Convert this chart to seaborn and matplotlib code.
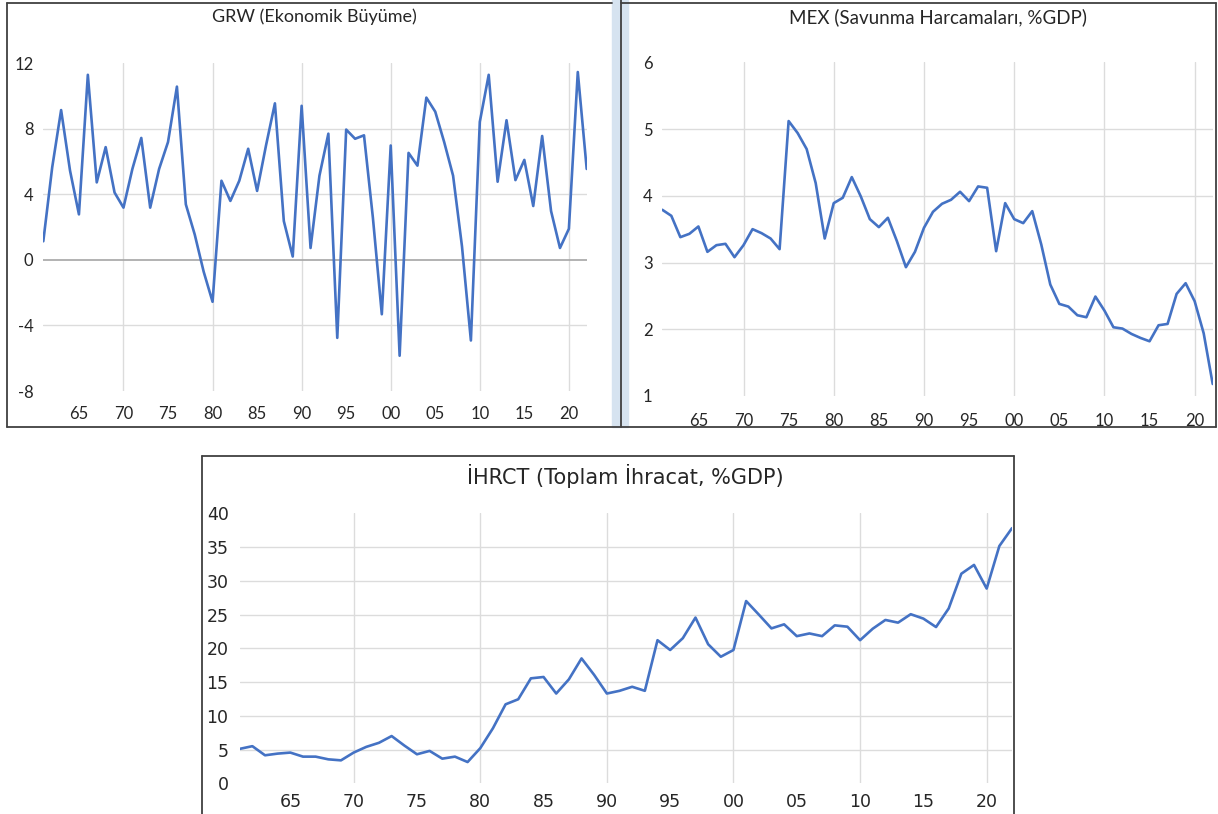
import matplotlib
matplotlib.use("Agg")
import matplotlib.pyplot as plt
import seaborn as sns
import numpy as np
from matplotlib.patches import Rectangle
from matplotlib.lines import Line2D

# data (1961-2022)
years = list(range(1961, 2023))

grw = [1.13, 5.64, 9.13, 5.44, 2.77, 11.28, 4.72, 6.87, 4.10, 3.18,
       5.54, 7.43, 3.18, 5.54, 7.18, 10.56, 3.38, 1.54, -0.72, -2.56,
       4.82, 3.59, 4.82, 6.77, 4.20, 6.97, 9.54, 2.36, 0.20, 9.39,
       0.72, 5.13, 7.69, -4.76, 7.94, 7.38, 7.59, 2.56, -3.32, 6.97,
       -5.85, 6.52, 5.74, 9.89, 9.03, 7.18, 5.13, 0.82, -4.92, 8.41,
       11.28, 4.76, 8.51, 4.86, 6.09, 3.28, 7.55, 2.97, 0.72, 1.89,
       11.45, 5.54]

mex = [3.79, 3.70, 3.38, 3.43, 3.54, 3.16, 3.26, 3.28, 3.08, 3.26,
       3.50, 3.44, 3.36, 3.20, 5.12, 4.94, 4.70, 4.19, 3.36, 3.89,
       3.97, 4.28, 3.99, 3.65, 3.53, 3.67, 3.32, 2.93, 3.16, 3.52,
       3.76, 3.88, 3.94, 4.06, 3.92, 4.14, 4.12, 3.17, 3.89, 3.65,
       3.59, 3.77, 3.27, 2.67, 2.38, 2.34, 2.21, 2.18, 2.49, 2.28,
       2.03, 2.01, 1.93, 1.87, 1.82, 2.06, 2.08, 2.53, 2.69, 2.42,
       1.94, 1.18]

ihrct = [5.1, 5.5, 4.15, 4.4, 4.55, 3.95, 3.95, 3.55, 3.4, 4.55,
         5.4, 6.0, 7.0, 5.6, 4.3, 4.8, 3.65, 3.95, 3.15, 5.2,
         8.15, 11.7, 12.45, 15.55, 15.75, 13.3, 15.4, 18.5, 16.05, 13.3,
         13.7, 14.3, 13.7, 21.2, 19.75, 21.5, 24.55, 20.6, 18.75, 19.75,
         27.0, 25.0, 22.95, 23.55, 21.8, 22.2, 21.8, 23.4, 23.2, 21.2,
         22.9, 24.2, 23.8, 25.05, 24.4, 23.15, 25.9, 31.05, 32.35, 28.85,
         35.15, 37.8]

decade_years = list(range(1970, 2021, 10))   # labelled + vertical gridline
mid_years = list(range(1965, 2020, 10))      # labelled only
decade_labels = [str(y)[-2:] for y in decade_years]
mid_labels = [str(y)[-2:] for y in mid_years]

BLUE = "#4472C4"
GRID = "#DCDCDC"
TXT = "#262626"
EDGE = "#404040"
W, H = 1218, 814

sns.set_style("white")
plt.rcParams["font.family"] = ["Lato", "DejaVu Sans"]

fig = plt.figure(figsize=(W / 100, H / 100), dpi=100)


def px_axes(x0, x1, ytop, ybot):
    return fig.add_axes([x0 / W, 1 - ybot / H, (x1 - x0) / W, (ybot - ytop) / H])


def px_line(xs, ys):
    fig.lines.append(Line2D([x / W for x in xs], [1 - y / H for y in ys],
                            transform=fig.transFigure, color=EDGE, lw=1.3, zorder=2))


def style_axes(ax, yticks, ylim, font, size, xpad, ypad):
    ax.set_xlim(1961, 2022)
    ax.set_ylim(*ylim)
    ax.set_xticks(decade_years)
    ax.set_xticklabels(decade_labels, fontfamily=font, fontsize=size, color=TXT)
    ax.set_xticks(mid_years, minor=True)
    ax.set_xticklabels(mid_labels, minor=True, fontfamily=font, fontsize=size, color=TXT)
    ax.set_yticks(yticks)
    ax.set_yticklabels([str(v) for v in yticks], fontfamily=font, fontsize=size, color=TXT)
    ax.tick_params(axis="both", which="both", length=0)
    ax.tick_params(axis="x", which="both", pad=xpad)
    ax.tick_params(axis="y", pad=ypad)
    ax.grid(True, axis="both", which="major", color=GRID, lw=1.0)
    ax.grid(False, which="minor")
    ax.set_axisbelow(True)
    for s in ax.spines.values():
        s.set_visible(False)
    gl = ax.get_ygridlines()
    gl[0].set_visible(False)
    gl[-1].set_visible(False)
    ax.set_xlabel("")
    ax.set_ylabel("")
    ax.set_facecolor("none")


# separator strip and frames
fig.patches.append(Rectangle((611.7 / W, 1 - 426.5 / H), 16.6 / W, 426.5 / H,
                             transform=fig.transFigure, color="#D6E3F0", zorder=0))
px_line([7, 7], [3, 426.5])
px_line([7, 611.7], [3, 3])
px_line([621, 1216], [3, 3])
px_line([621, 621], [0, 426.5])
px_line([1216, 1216], [3, 426.5])
px_line([7, 1216], [426.5, 426.5])
px_line([202, 202], [814, 456])
px_line([202, 1014], [456, 456])
px_line([1014, 1014], [456, 814])

# GRW
ax1 = px_axes(43.3, 586.7, 63, 391)
sns.lineplot(x=years, y=grw, ax=ax1, color=BLUE, linewidth=1.9)
style_axes(ax1, [-8, -4, 0, 4, 8, 12], (-8, 12), "Lato", 12, 11, 7)
ax1.get_ygridlines()[2].set_visible(False)
ax1.axhline(0, color="#A6A6A6", lw=1.2, zorder=1)
fig.text(314 / W, 1 - 17 / H, "GRW (Ekonomik Büyüme)", ha="center", va="center",
         fontfamily="Lato", fontsize=13, color=TXT)

# MEX
ax2 = px_axes(662.3, 1212.7, 62.3, 396)
sns.lineplot(x=years, y=mex, ax=ax2, color=BLUE, linewidth=1.9)
style_axes(ax2, [1, 2, 3, 4, 5, 6], (1, 6), "Lato", 12, 12, 7)
fig.text(938 / W, 1 - 17 / H, "MEX (Savunma Harcamaları, %GDP)", ha="center", va="center",
         fontfamily="Lato", fontsize=13.5, color=TXT)

# IHRCT
ax3 = px_axes(239.7, 1012, 513.3, 783.3)
sns.lineplot(x=years, y=ihrct, ax=ax3, color=BLUE, linewidth=1.9)
style_axes(ax3, list(range(0, 45, 5)), (0, 40), "DejaVu Sans", 12.5, 7, 8)
fig.text(625 / W, 1 - 476 / H, "İHRCT (Toplam İhracat, %GDP)", ha="center", va="center",
         fontfamily="DejaVu Sans", fontsize=15, color=TXT)

fig.savefig("out.png", dpi=100)
